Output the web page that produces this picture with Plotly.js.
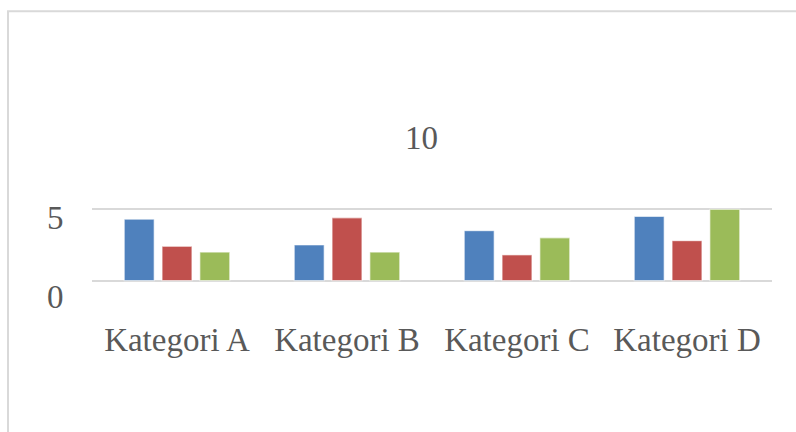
<!DOCTYPE html>
<html>
<head>
<meta charset="utf-8">
<script src="https://cdn.plot.ly/plotly-3.0.1.min.js"></script>
<style>
  html, body { margin: 0; padding: 0; background: #ffffff; }
  #chart { width: 796px; height: 432px; }
</style>
</head>
<body>
<div id="chart"></div>
<script>
const categories = ["Kategori A", "Kategori B", "Kategori C", "Kategori D"];
const series1 = [4.3, 2.5, 3.5, 4.5];
const series2 = [2.4, 4.4, 1.8, 2.8];
const series3 = [2.0, 2.0, 3.0, 5.0];
const seriesNames = ["Series 1", "Series 2", "Series 3"];
const seriesColors = ["#4F81BD", "#C0504D", "#9BBB59"];
const yTickVals = [0, 5, 10];
const yTickLabels = ["0", "5", "10"];

const fontFamily = '"Liberation Serif", "Times New Roman", serif';
const seriesData = [series1, series2, series3];

const traces = seriesData.map((vals, i) => ({
  type: "bar",
  name: seriesNames[i],
  x: categories,
  y: vals,
  marker: { color: seriesColors[i], line: { color: "rgba(255,255,255,0.55)", width: 1.2 } },
  hoverinfo: "x+y"
}));

// label placement (paper x, pixel shift) for each y tick label
const yLabelX = [-0.054, -0.054, 0.484];
const yLabelShift = [-16, -9, 0];

const annotations = yTickVals.map((v, i) => ({
  xref: "paper", yref: "y",
  x: yLabelX[i], y: v,
  text: yTickLabels[i],
  showarrow: false,
  xanchor: "center", yanchor: "middle",
  yshift: yLabelShift[i],
  font: { family: fontFamily, size: 33, color: "#595959" }
}));

const layout = {
  width: 796, height: 432,
  margin: { l: 92, r: 24, t: 138, b: 150, pad: 0 },
  paper_bgcolor: "#ffffff",
  plot_bgcolor: "#ffffff",
  showlegend: false,
  barmode: "group",
  bargap: 0.333,
  bargroupgap: 0.21,
  font: { family: fontFamily, color: "#595959" },
  xaxis: {
    type: "category",
    showgrid: false,
    zeroline: false,
    showline: false,
    ticks: "",
    ticklabelstandoff: 35,
    tickfont: { family: fontFamily, size: 33, color: "#595959" }
  },
  yaxis: {
    range: [-0.1, 10],
    tickvals: [0, 5],
    showticklabels: false,
    showgrid: true,
    gridcolor: "#d9d9d9",
    gridwidth: 2,
    zeroline: false,
    showline: false,
    ticks: ""
  },
  annotations: annotations,
  shapes: [{
    type: "rect", xref: "paper", yref: "paper",
    x0: -0.1235, x1: 2, y0: -3, y1: 1.88,
    line: { color: "#d9d9d9", width: 2 },
    fillcolor: "rgba(0,0,0,0)",
    layer: "below"
  }]
};

Plotly.newPlot("chart", traces, layout, { displayModeBar: false, staticPlot: true });
</script>
</body>
</html>
